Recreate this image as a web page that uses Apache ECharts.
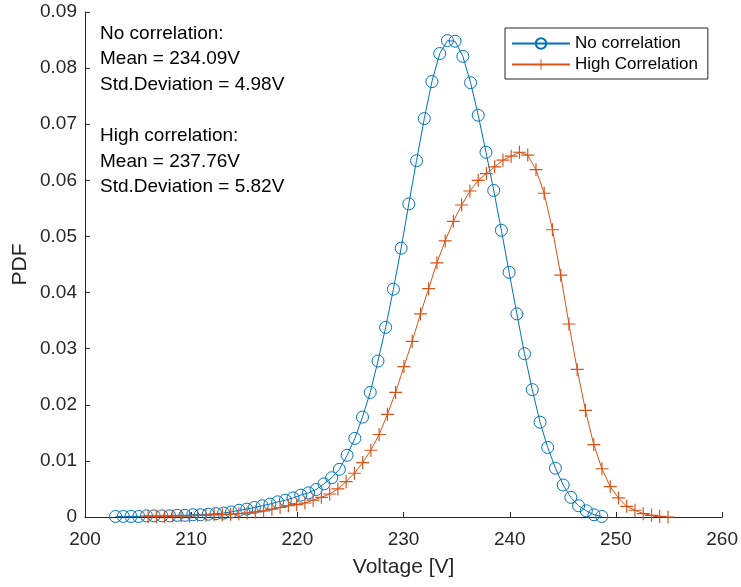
<!DOCTYPE html>
<html>
<head>
<meta charset="utf-8">
<script src="https://cdn.jsdelivr.net/npm/echarts@6/dist/echarts.min.js"></script>
<style>
html,body{margin:0;padding:0;background:#fff;}
#chart{width:741px;height:587px;}
</style>
</head>
<body>
<div id="chart"></div>
<script>
// ---- Data ----
const seriesNames = ['No correlation', 'High Correlation'];

const noCorrX = [202.88,203.61,204.33,205.06,205.79,206.51,207.24,207.97,208.69,209.42,
  210.15,210.87,211.60,212.33,213.05,213.78,214.51,215.23,215.96,216.69,
  217.41,218.14,218.87,219.59,220.32,221.05,221.77,222.50,223.23,223.95,
  224.68,225.41,226.13,226.86,227.59,228.31,229.04,229.77,230.49,231.22,
  231.95,232.67,233.40,234.13,234.85,235.58,236.31,237.03,237.76,238.49,
  239.21,239.94,240.67,241.39,242.12,242.85,243.57,244.30,245.03,245.75,
  246.48,247.21,247.93,248.66];
const noCorrY = [0.0001,0.0001,0.0001,0.0001,0.0002,0.0002,0.0002,0.0002,0.0003,0.0003,
  0.0004,0.0004,0.0005,0.0006,0.0007,0.0009,0.0012,0.0014,0.0017,0.0020,
  0.0023,0.0027,0.0030,0.0034,0.0039,0.0043,0.0049,0.0059,0.0070,0.0085,
  0.0110,0.0140,0.0178,0.0222,0.0278,0.0338,0.0406,0.0479,0.0558,0.0635,
  0.0710,0.0776,0.0826,0.0849,0.0848,0.0821,0.0774,0.0716,0.0650,0.0582,
  0.0511,0.0436,0.0362,0.0291,0.0227,0.0169,0.0124,0.0087,0.0057,0.0035,
  0.0020,0.0011,0.0004,0.0001];

const highCorrX = [205.94,206.72,207.49,208.27,209.05,209.83,210.60,211.38,212.16,212.93,
  213.71,214.49,215.27,216.04,216.82,217.60,218.37,219.15,219.93,220.71,
  221.48,222.26,223.04,223.81,224.59,225.37,226.15,226.92,227.70,228.48,
  229.25,230.03,230.81,231.59,232.36,233.14,233.92,234.69,235.47,236.25,
  237.03,237.80,238.58,239.36,240.13,240.91,241.69,242.47,243.24,244.02,
  244.80,245.57,246.35,247.13,247.91,248.68,249.46,250.24,251.01,251.79,
  252.57,253.35,254.12,254.90];
const highCorrY = [0.0001,0.0001,0.0001,0.0002,0.0002,0.0002,0.0003,0.0003,0.0004,0.0004,
  0.0005,0.0006,0.0007,0.0009,0.0011,0.0014,0.0017,0.0020,0.0022,0.0025,
  0.0030,0.0035,0.0041,0.0050,0.0063,0.0078,0.0097,0.0119,0.0147,0.0183,
  0.0222,0.0268,0.0313,0.0362,0.0407,0.0453,0.0492,0.0527,0.0556,0.0581,
  0.0600,0.0612,0.0624,0.0636,0.0643,0.0650,0.0645,0.0619,0.0577,0.0512,
  0.0431,0.0344,0.0263,0.0190,0.0129,0.0086,0.0054,0.0034,0.0019,0.0012,
  0.0006,0.0003,0.0001,0.0000];

const annotationLines = [
  'No correlation:',
  'Mean = 234.09V',
  'Std.Deviation = 4.98V',
  '',
  'High correlation:',
  'Mean = 237.76V',
  'Std.Deviation = 5.82V'
];

const xAxisName = 'Voltage [V]';
const yAxisName = 'PDF';

// ---- Chart ----
const BLUE = '#0072BD';
const ORANGE = '#D95319';
const AX = '#262626';
const FONT = '"Liberation Sans", Arial, Helvetica, sans-serif';
const PLUS = 'path://M4.55,0 H5.45 V4.55 H10 V5.45 H5.45 V10 H4.55 V5.45 H0 V4.55 H4.55 Z';

function pairs(xs, ys) { return xs.map((x, i) => [x, ys[i]]); }

const chart = echarts.init(document.getElementById('chart'), null, {renderer: 'canvas'});
chart.setOption({
  animation: false,
  backgroundColor: '#fff',
  textStyle: {fontFamily: FONT},
  grid: {left: 85, right: 16, top: 12, bottom: 70, containLabel: false},
  legend: {
    orient: 'vertical',
    left: 505, top: 28,
    padding: [7, 10, 6, 6],
    itemWidth: 58, itemHeight: 13, itemGap: 4,
    borderColor: AX, borderWidth: 1, backgroundColor: '#fff',
    textStyle: {fontFamily: FONT, fontSize: 17, color: '#000', lineHeight: 17},
    data: seriesNames
  },
  xAxis: {
    type: 'value', min: 200, max: 260, interval: 10,
    name: xAxisName, nameLocation: 'middle', nameGap: 40, nameMoveOverlap: false,
    nameTextStyle: {fontFamily: FONT, fontSize: 21, color: AX},
    axisLine: {lineStyle: {color: AX, width: 1}},
    axisTick: {inside: true, length: 5, lineStyle: {color: AX}},
    axisLabel: {fontFamily: FONT, fontSize: 19, color: AX, margin: 13},
    splitLine: {show: false}
  },
  yAxis: {
    type: 'value', min: 0, max: 0.09, interval: 0.01,
    name: yAxisName, nameLocation: 'middle', nameGap: 54, nameMoveOverlap: false,
    nameTextStyle: {fontFamily: FONT, fontSize: 21, color: AX},
    axisLine: {show: true, lineStyle: {color: AX, width: 1}},
    axisTick: {show: true, inside: true, length: 5, lineStyle: {color: AX}},
    axisLabel: {fontFamily: FONT, fontSize: 19, color: AX, margin: 8,
      formatter: v => v === 0 ? '0' : v.toFixed(2)},
    splitLine: {show: false}
  },
  graphic: [{
    type: 'text', left: 100, top: 20.5, z: 10,
    style: {
      text: annotationLines.join('\n'),
      font: '19px ' + FONT, fill: '#000', lineHeight: 25.6
    }
  }],
  series: [
    {
      name: seriesNames[0], type: 'line', data: pairs(noCorrX, noCorrY),
      symbol: 'circle', symbolSize: 12, showAllSymbol: true,
      lineStyle: {color: BLUE, width: 1},
      itemStyle: {color: 'rgba(255,255,255,0)', borderColor: BLUE, borderWidth: 1},
      emphasis: {disabled: true}
    },
    {
      name: seriesNames[1], type: 'line', data: pairs(highCorrX, highCorrY),
      symbol: PLUS, symbolSize: 13, showAllSymbol: true,
      lineStyle: {color: ORANGE, width: 1},
      itemStyle: {color: ORANGE, borderWidth: 0},
      emphasis: {disabled: true}
    }
  ]
});
</script>
</body>
</html>
